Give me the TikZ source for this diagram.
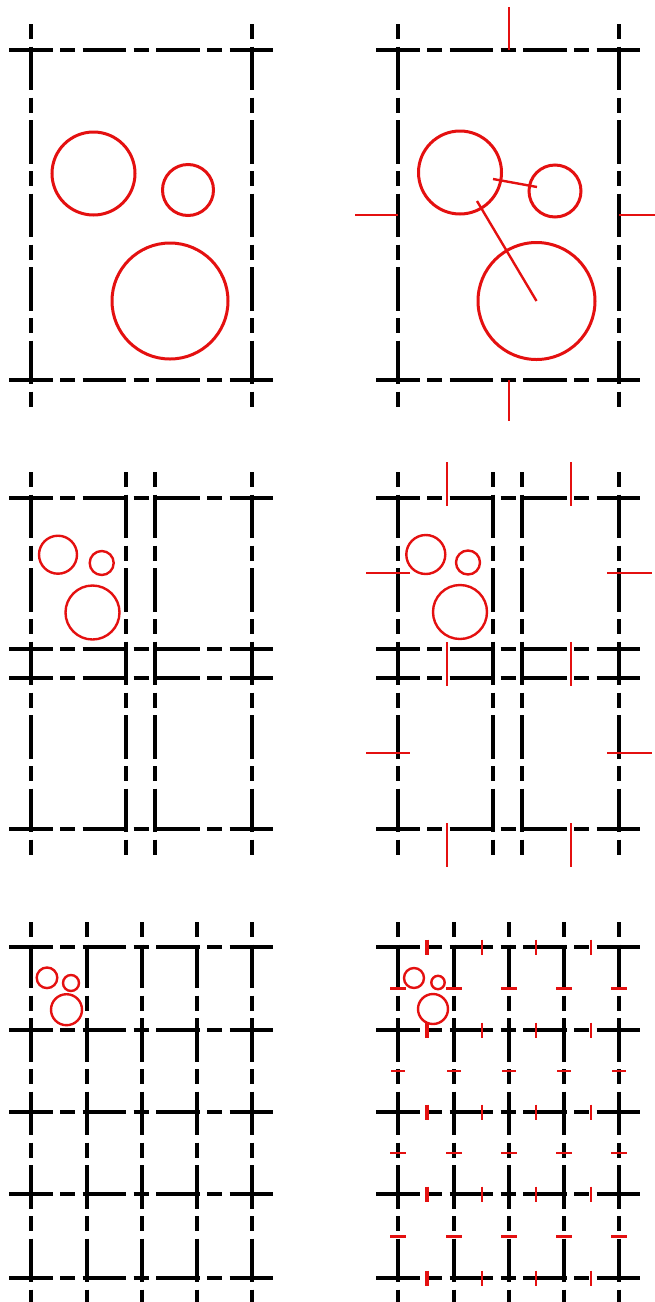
\documentclass[tikz,border=0pt]{standalone}
\definecolor{cadred}{RGB}{228,16,16}
\begin{document}
\begin{tikzpicture}[x=1pt,y=-1pt,
  hl/.style={line width=3.5pt, dash pattern=on 43.5pt off 7.5pt on 15pt off 7.5pt},
  vl/.style={line width=3.5pt, dash pattern=on 15pt off 7.5pt on 43.5pt off 7.5pt},
  circ/.style={circle, draw=cadred, inner sep=0pt, line width=#1},
  circ/.default=3pt,
  rtick/.style={draw=cadred, line width=#1},
  rtick/.default=2.4pt]
\useasboundingbox (0,0) rectangle (655,1302);
% ---------- panel 1 ----------
\foreach \y in {50,380} \draw[hl] (9,\y) -- (274,\y);
\foreach \x in {31,252} \draw[vl] (\x,24) -- (\x,407);
\node[circ, minimum size=83pt]  (p1a) at (93.5,173.5) {};
\node[circ, minimum size=51pt]  (p1b) at (188,190) {};
\node[circ, minimum size=116pt] (p1c) at (170,301) {};
% ---------- panel 2 ----------
\foreach \y in {50,380} \draw[hl] (376,\y) -- (641,\y);
\foreach \x in {398,619} \draw[vl] (\x,24) -- (\x,407);
\node[circ, minimum size=83pt]  (p2a) at (460,172.5) {};
\node[circ, minimum size=52pt]  (p2b) at (555,191) {};
\node[circ, minimum size=117pt] (p2c) at (536.5,301) {};
\coordinate (l1s) at (493,179);
\coordinate (l1e) at (537,187);
\coordinate (l2s) at (477,201);
\draw[rtick=2.4pt] (l1s) -- (l1e);
\draw[rtick=2.4pt] (l2s) -- (p2c.center);
\draw[rtick=2.8pt] (509,7) -- (509,50);
\draw[rtick=2.8pt] (509,380) -- (509,421);
\draw[rtick=2.4pt] (355,215) -- (398,215);
\draw[rtick=2.4pt] (619,215) -- (655,215);
% ---------- panel 3 ----------
\foreach \y in {498,649,678,829} \draw[hl] (9,\y) -- (274,\y);
\foreach \x in {31,126,155,252} \draw[vl] (\x,472) -- (\x,855);
\node[circ=2.4pt, minimum size=38pt] (p3a) at (58,554.7) {};
\node[circ=2.4pt, minimum size=24pt] (p3b) at (101.7,563) {};
\node[circ=2.4pt, minimum size=54pt] (p3c) at (92.5,612.5) {};
% ---------- panel 4 ----------
\foreach \y in {498,649,678,829} \draw[hl] (376,\y) -- (641,\y);
\foreach \x in {398,493,522,619} \draw[vl] (\x,472) -- (\x,855);
\node[circ=2.4pt, minimum size=39pt] (p4a) at (425.8,554.5) {};
\node[circ=2.4pt, minimum size=24pt] (p4b) at (468,562.5) {};
\node[circ=2.4pt, minimum size=54pt] (p4c) at (460,612) {};
\foreach \x in {447,571} {
  \draw[rtick=2.8pt] (\x,462) -- (\x,506);
  \draw[rtick=2.8pt] (\x,642) -- (\x,686);
  \draw[rtick=2.8pt] (\x,823) -- (\x,867);
}
\foreach \y in {573,753} {
  \draw[rtick=2.8pt] (366,\y) -- (410,\y);
  \draw[rtick=2.8pt] (607,\y) -- (652,\y);
}
% ---------- panel 5 ----------
\foreach \y in {947,1030,1112,1194,1278} \draw[hl] (9,\y) -- (274,\y);
\foreach \x in {31,87,142,197,252} \draw[vl] (\x,922) -- (\x,1302);
\node[circ=2.4pt, minimum size=20.6pt] (p5a) at (47,977.8) {};
\node[circ=2.4pt, minimum size=16pt]   (p5b) at (71,983) {};
\node[circ=2.4pt, minimum size=31pt]   (p5c) at (66.5,1009.7) {};
% ---------- panel 6 ----------
\foreach \y in {947,1030,1112,1194,1278} \draw[hl] (376,\y) -- (641,\y);
\foreach \x in {398,454,509,564,619} \draw[vl] (\x,922) -- (\x,1302);
\node[circ=2.4pt, minimum size=20pt]   (p6a) at (414,978) {};
\node[circ=2.4pt, minimum size=13.4pt] (p6b) at (438,982.5) {};
\node[circ=2.4pt, minimum size=30pt]   (p6c) at (433,1009) {};
\foreach \y in {947,1030,1112,1194,1278} {
  \draw[rtick=3.4pt] (427,\y-7.5) -- (427,\y+7.5);
  \foreach \x in {482,536,591} \draw[rtick=2.4pt] (\x,\y-7.5) -- (\x,\y+7.5);
}
\foreach \x in {398,454,509,564,619} {
  \draw[rtick=3pt]   (\x-8,988) -- (\x+8,988);
  \draw[rtick=2.4pt] (\x-7,1071) -- (\x+7,1071);
  \draw[rtick=2.8pt] (\x-8,1153) -- (\x+8,1153);
  \draw[rtick=3pt]   (\x-8,1236) -- (\x+8,1236);
}
\end{tikzpicture}
\end{document}
